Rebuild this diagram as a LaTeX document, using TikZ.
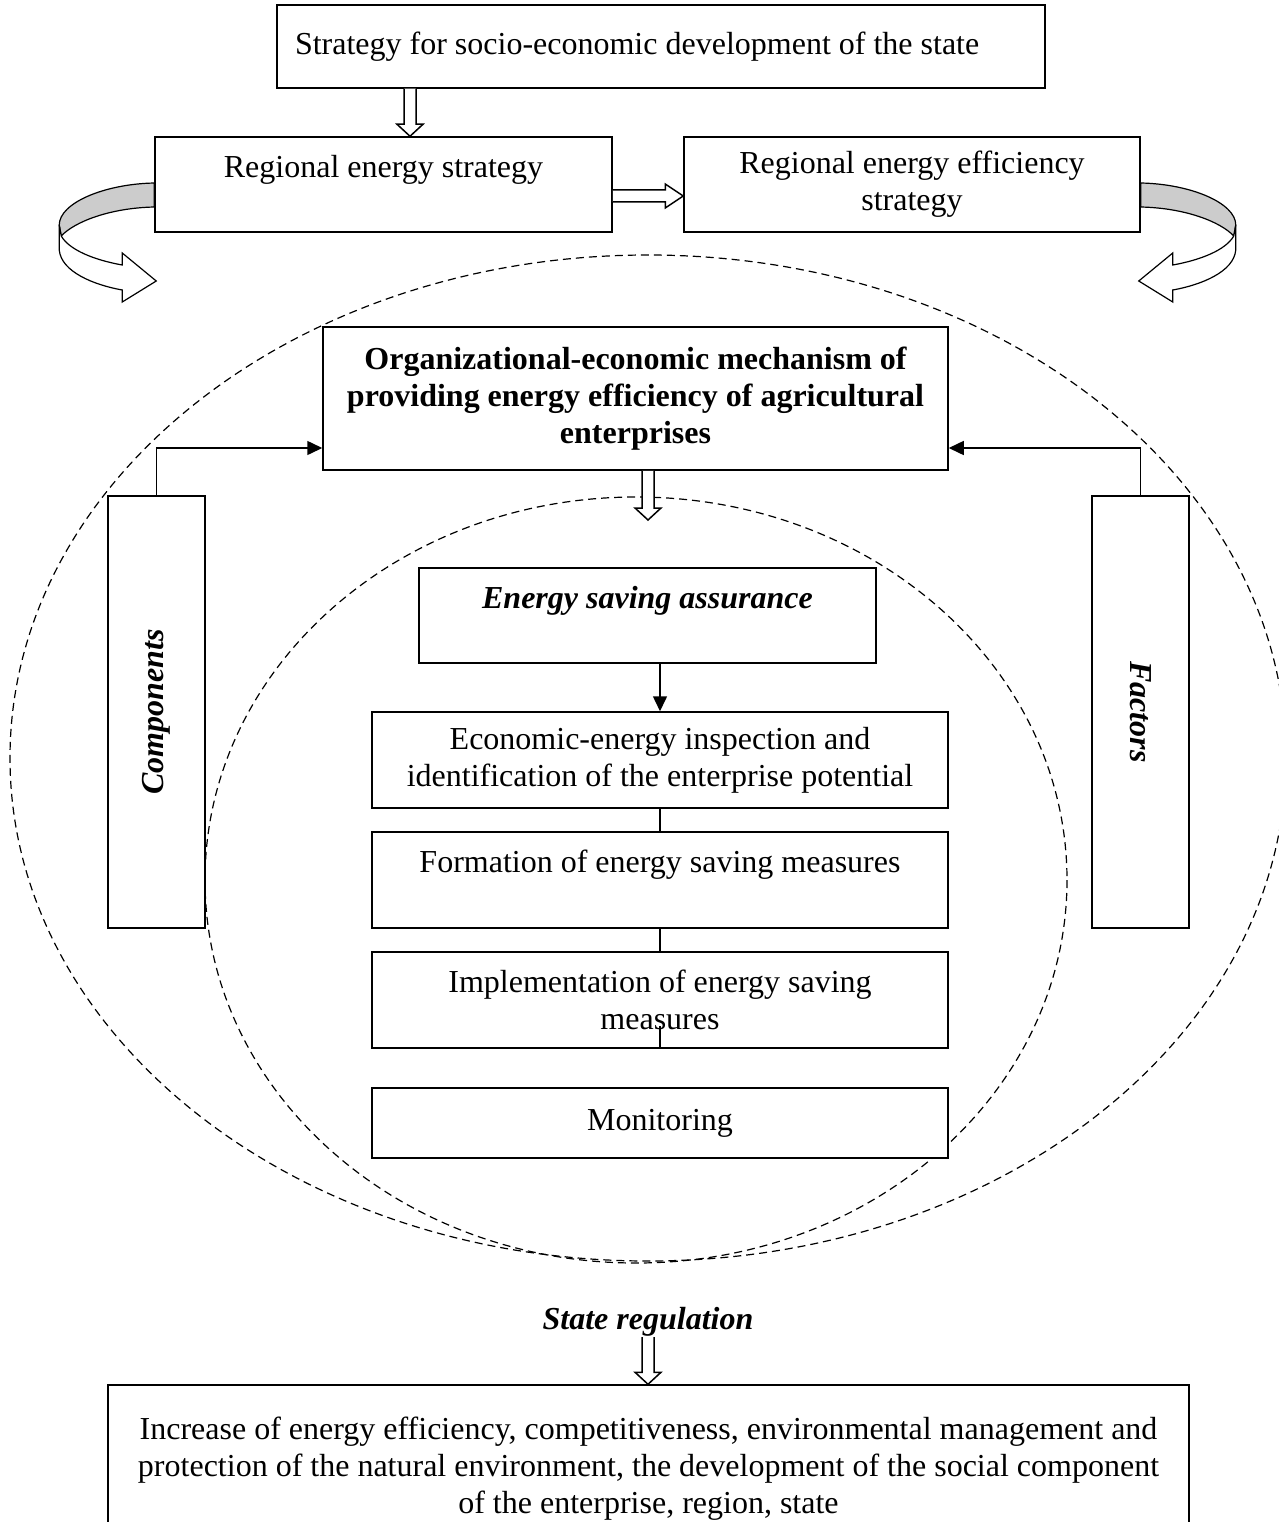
\documentclass[tikz,border=0pt]{standalone}
\usepackage{fontspec}
\setmainfont{Liberation Serif}
\usepackage{graphicx}
\usetikzlibrary{arrows.meta,calc}

\newcommand{\diagfont}{\fontsize{32}{37}\selectfont}

\tikzset{
  box/.style={draw, fill=white, line width=1.5pt, inner sep=0pt, align=center},
  hollow/.style={draw, fill=white, line width=1.5pt},
  oval/.style={line width=1.2pt, dash pattern=on 8pt off 5pt},
  link/.style={line width=1.5pt},
  tip/.style={-{Triangle[length=15pt, width=14pt]}},
  hdown/.style={to path={let \p1=(\tikztostart), \p2=(\tikztotarget) in
    (\x1-6,\y1) -- (\x1-6,\y2+12) -- (\x1-13,\y2+12) -- (\x1,\y2)
    -- (\x1+13,\y2+12) -- (\x1+6,\y2+12) -- (\x1+6,\y1)}},
  hright/.style={to path={let \p1=(\tikztostart), \p2=(\tikztotarget) in
    (\x1,\y1+6) -- (\x2-18,\y1+6) -- (\x2-18,\y1+12) -- (\x2,\y1)
    -- (\x2-18,\y1-12) -- (\x2-18,\y1-6) -- (\x1,\y1-6)}},
  ribbon/.pic={
    \draw[fill=black!20, line width=1.2pt] (0,0) .. controls (-50,1) and (-95,20) .. (-95,42)
      -- (-93,53) .. controls (-80,39) and (-45,25) .. (0,24) -- cycle;
    \draw[fill=white, line width=1.2pt] (-95,42) -- (-95,67) .. controls (-93,89) and (-60,102) .. (-32,107)
      -- (-32,119) -- (2,98) -- (-32,70) -- (-32,82) .. controls (-60,77) and (-85,67) .. (-93,53) -- cycle;
  }
}

\begin{document}
\begin{tikzpicture}[x=1pt, y=-1pt, font=\diagfont]
  \useasboundingbox (0,0) rectangle (1278,1522);

  % dashed ovals
  \draw[oval] (648,758) ellipse [x radius=638, y radius=503];
  \draw[oval] (636,880) ellipse [x radius=431, y radius=383];

  \node[box, minimum width=768pt, minimum height=83pt, text width=732pt, inner xsep=18pt, align=flush left] (state) at (661,46.5) {Strategy for socio-economic development of the state};
  \node[box, minimum width=457pt, minimum height=95pt] (regen) at (383.5,184.5) {Regional energy strategy\\\mbox{}};
  \node[box, minimum width=456pt, minimum height=95pt] (regeff) at (912,184.5) {Regional energy efficiency\\strategy};
  \node[box, minimum width=625pt, minimum height=143pt, font=\diagfont\bfseries] (mech) at (635.5,398.5) {Organizational-economic mechanism of\\providing energy efficiency of agricultural\\enterprises};
  \node[box, minimum width=97pt, minimum height=432pt] (comp) at (156.5,712) {\rotatebox{90}{\bfseries\itshape Components}};
  \node[box, minimum width=97pt, minimum height=432pt] (fact) at (1140.5,712) {\rotatebox{-90}{\bfseries\itshape Factors}};
  \node[box, minimum width=457pt, minimum height=95pt, font=\diagfont\bfseries\itshape] (assur) at (647.5,615.5) {Energy saving assurance\\\mbox{}};
  \node[box, minimum width=576pt, minimum height=96pt] (econ) at (660,760) {Economic-energy inspection and\\identification of the enterprise potential};
  \node[box, minimum width=576pt, minimum height=96pt] (form) at (660,880) {Formation of energy saving measures\\\mbox{}};
  \node[box, minimum width=576pt, minimum height=96pt] (impl) at (660,1000) {Implementation of energy saving\\measures};
  \node[box, minimum width=576pt, minimum height=70pt] (mon) at (660,1123) {Monitoring};
  \node[font=\diagfont\bfseries\itshape] (regul) at (648,1322) {State regulation};
  \node[box, minimum width=1081pt, minimum height=168pt] (result) at (648.5,1469) {Increase of energy efficiency, competitiveness, environmental management and\\protection of the natural environment, the development of the social component\\of the enterprise, region, state};

  \coordinate (mechout) at (648,520);
  \coordinate (regout) at (648,1337);

  \draw[hollow] (410,0 |- state.south) to[hdown] (410,0 |- regen.north);
  \draw[hollow] (regen.east |- 0,196) to[hright] (regeff.west |- 0,196);
  \draw[hollow] (mech.south -| mechout) to[hdown] (mechout);
  \draw[hollow] (regout) to[hdown] (result.north);

  \pic at (regen.west |- 0,183) {ribbon};
  \pic[xscale=-1] at (regeff.east |- 0,183) {ribbon};

  \draw[link, tip] (comp.north) |- (mech.west |- 0,448);
  \draw[link, tip] (fact.north) |- (mech.east |- 0,448);
  \draw[link, tip] (assur.south -| econ.north) -- (econ.north);
  \draw[link] (econ.south) -- (form.north);
  \draw[link] (form.south) -- (impl.north);
  \draw[link] (impl.south) -- ++(0,-23);
\end{tikzpicture}
\end{document}
